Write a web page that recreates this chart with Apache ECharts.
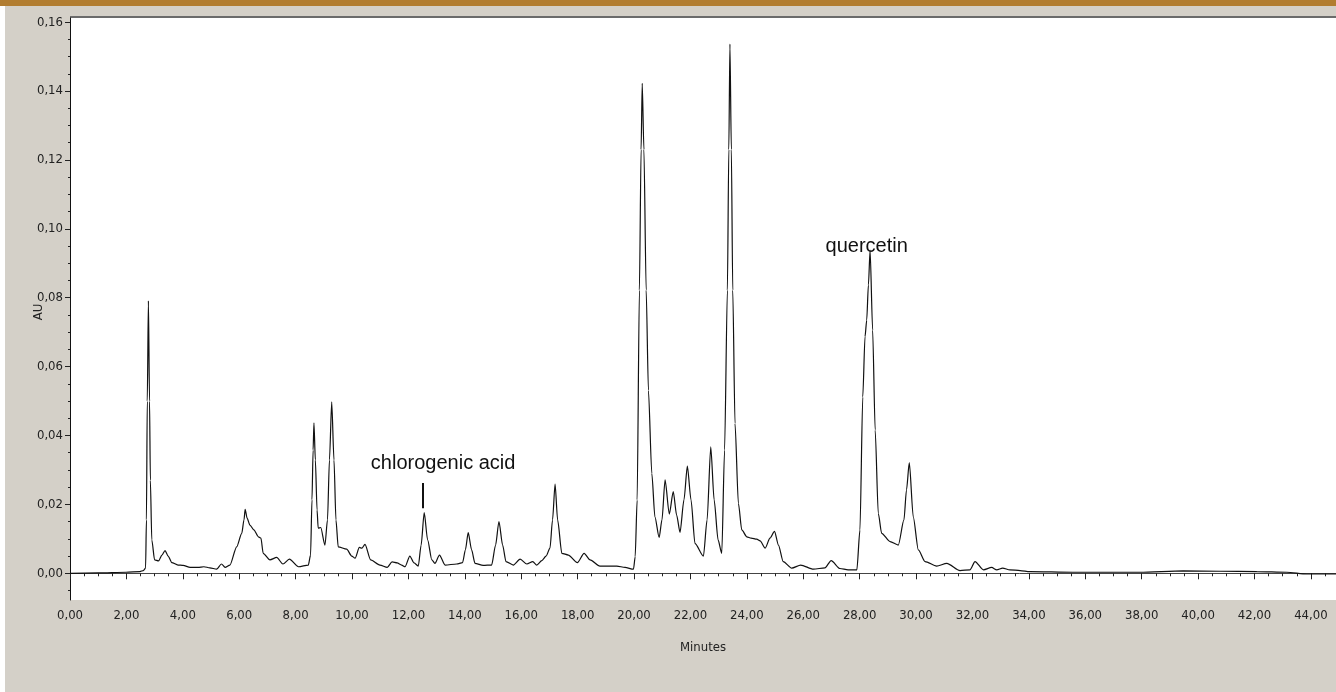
<!DOCTYPE html>
<html>
<head>
<meta charset="utf-8">
<script src="https://cdn.jsdelivr.net/npm/echarts@6/dist/echarts.min.js"></script>
<style>
html,body{margin:0;padding:0;background:#ffffff;}
#chart{width:1336px;height:692px;}
</style>
</head>
<body>
<div id="chart"></div>
<script>
// Retention time (minutes) and absorbance (AU)
const minutes = [
 0, 0.99, 1.99, 2.48, 2.60, 2.68, 2.71, 2.74, 2.78, 2.82, 2.85, 2.90, 3.00, 3.14, 3.26, 3.37, 3.48, 3.61, 3.83, 4.01,
 4.26, 4.54, 4.75, 4.96, 5.20, 5.37, 5.50, 5.67, 5.91, 6.09, 6.17, 6.21, 6.28, 6.38, 6.52, 6.68, 6.77, 6.85, 7.09, 7.33,
 7.55, 7.78, 8.10, 8.45, 8.53, 8.58, 8.62, 8.65, 8.70, 8.76, 8.80, 8.89, 9.04, 9.13, 9.20, 9.28, 9.36, 9.43, 9.51, 9.81,
 9.99, 10.11, 10.26, 10.35, 10.46, 10.66, 10.99, 11.25, 11.42, 11.60, 11.76, 11.88, 12.05, 12.20, 12.35, 12.45, 12.56, 12.68, 12.83, 12.94,
 13.10, 13.30, 13.71, 13.92, 14.02, 14.12, 14.24, 14.36, 14.65, 14.95, 15.09, 15.21, 15.34, 15.46, 15.72, 15.96, 16.20, 16.41, 16.55, 16.73,
 16.88, 17.02, 17.11, 17.20, 17.29, 17.44, 17.67, 17.99, 18.23, 18.44, 18.79, 19.39, 19.68, 19.98, 20.04, 20.11, 20.19, 20.25, 20.29, 20.35,
 20.43, 20.51, 20.63, 20.74, 20.89, 20.99, 21.10, 21.25, 21.39, 21.51, 21.63, 21.77, 21.89, 22.02, 22.16, 22.46, 22.59, 22.72, 22.84, 22.98,
 23.11, 23.21, 23.31, 23.36, 23.40, 23.45, 23.50, 23.58, 23.70, 23.82, 24.00, 24.15, 24.35, 24.47, 24.65, 24.82, 24.98, 25.12, 25.29, 25.59,
 25.91, 26.36, 26.77, 26.99, 27.30, 27.59, 27.90, 28.01, 28.11, 28.19, 28.25, 28.31, 28.37, 28.46, 28.55, 28.66, 28.78, 29.08, 29.37, 29.57,
 29.66, 29.76, 29.90, 30.08, 30.32, 30.73, 31.09, 31.56, 31.91, 32.09, 32.39, 32.68, 32.86, 33.07, 33.33, 33.69, 34.03, 35.56, 37.94, 39.47,
 40.78, 42.08, 43.14, 43.85, 44.89
];
const au = [
 0, 0.0001, 0.0003, 0.0005, 0.0008, 0.0015, 0.0155, 0.050, 0.0791, 0.050, 0.027, 0.0097, 0.0039, 0.0036, 0.0053, 0.0066, 0.0050, 0.0031, 0.0024, 0.0023,
 0.0017, 0.0017, 0.0019, 0.0016, 0.0012, 0.0027, 0.0017, 0.0024, 0.0077, 0.0116, 0.0155, 0.0186, 0.0160, 0.0140, 0.0126, 0.0106, 0.0102, 0.0058, 0.0039, 0.0046,
 0.0027, 0.0041, 0.0019, 0.0024, 0.0053, 0.0213, 0.0358, 0.0437, 0.0329, 0.0184, 0.0131, 0.0133, 0.0082, 0.0155, 0.0329, 0.0498, 0.0329, 0.0155, 0.0077, 0.0070,
 0.0050, 0.0044, 0.0075, 0.0073, 0.0084, 0.0039, 0.0024, 0.0017, 0.0033, 0.0030, 0.0024, 0.0019, 0.0050, 0.0030, 0.0021, 0.0082, 0.0176, 0.0097, 0.0039, 0.0029,
 0.0053, 0.0024, 0.0027, 0.0031, 0.0068, 0.0118, 0.0068, 0.0029, 0.0023, 0.0024, 0.0082, 0.0150, 0.0082, 0.0034, 0.0024, 0.0041, 0.0027, 0.0034, 0.0024, 0.0037,
 0.0050, 0.0073, 0.0155, 0.0259, 0.0155, 0.0058, 0.0053, 0.0031, 0.0058, 0.0039, 0.0021, 0.0021, 0.0017, 0.0012, 0.0048, 0.0213, 0.0822, 0.1230, 0.1422, 0.1230,
 0.0822, 0.0531, 0.0290, 0.0164, 0.0104, 0.0155, 0.0271, 0.0172, 0.0237, 0.0169, 0.0119, 0.0213, 0.0311, 0.0213, 0.0087, 0.0050, 0.0155, 0.0367, 0.0213, 0.0097,
 0.0058, 0.0358, 0.0822, 0.1230, 0.1536, 0.1230, 0.0822, 0.0435, 0.0203, 0.0126, 0.0106, 0.0102, 0.0099, 0.0094, 0.0073, 0.0102, 0.0122, 0.0082, 0.0034, 0.0015,
 0.0024, 0.0012, 0.0016, 0.0037, 0.0014, 0.0010, 0.0010, 0.0126, 0.0512, 0.0687, 0.0735, 0.0837, 0.0938, 0.0706, 0.0416, 0.0174, 0.0116, 0.0092, 0.0082, 0.0155,
 0.0242, 0.0321, 0.0164, 0.0068, 0.0034, 0.0021, 0.0029, 0.0008, 0.0010, 0.0034, 0.0010, 0.0017, 0.0010, 0.0015, 0.0010, 0.0008, 0.0005, 0.0003, 0.0003, 0.0007,
 0.0006, 0.0005, 0.0003, -0.0002, -0.0002
];

// Axis ticks
const xMajorTicks = [0,2,4,6,8,10,12,14,16,18,20,22,24,26,28,30,32,34,36,38,40,42,44];
const xMinorTicks = [];
for (let i = 0; i <= 89; i++) xMinorTicks.push(i * 0.5);
const yMajorTicks = [0, 0.02, 0.04, 0.06, 0.08, 0.10, 0.12, 0.14, 0.16];
const yMinorTicks = [-0.005, 0, 0.005, 0.01, 0.015, 0.02, 0.025, 0.03, 0.035, 0.04, 0.045, 0.05, 0.055, 0.06, 0.065, 0.07, 0.075, 0.08, 0.085, 0.09, 0.095, 0.10, 0.105, 0.11, 0.115, 0.12, 0.125, 0.13, 0.135, 0.14, 0.145, 0.15, 0.155, 0.16];

// Annotations
const annotNames = ['chlorogenic acid', 'quercetin'];
const annotPos = [[13.23, 0.0320], [28.25, 0.0950]];
const markerLine = [[12.51, 0.0189], [12.51, 0.0262]];

const xMin = 0, xMax = 44.89, yMin = -0.00775, yMax = 0.1612;
const fmt = v => Number(v).toFixed(2).replace('.', ',');
const tickFont = '"Liberation Sans Narrow", "DejaVu Sans Condensed", "Liberation Sans", sans-serif';
const labelFont = '"Liberation Sans", Arial, sans-serif';

const chart = echarts.init(document.getElementById('chart'), null, {renderer: 'canvas'});
chart.setOption({
  animation: false,
  backgroundColor: '#d4d0c8',
  graphic: [
    {type: 'rect', shape: {x: 0, y: 0, width: 1336, height: 6}, style: {fill: '#b27d30'}},
    {type: 'rect', shape: {x: 0, y: 6, width: 5, height: 686}, style: {fill: '#ffffff'}},
    {type: 'rect', shape: {x: 70, y: 16, width: 1266, height: 2}, style: {fill: '#6b6b6b'}},
    {type: 'text', x: 39, y: 312, rotation: Math.PI / 2,
     style: {text: 'AU', font: '13px ' + tickFont, fill: '#222', textAlign: 'center', textVerticalAlign: 'middle'}}
  ],
  grid: {left: 70, top: 18, right: 0, bottom: 92, show: true, backgroundColor: '#ffffff', borderWidth: 0, containLabel: false},
  xAxis: [
    {
      type: 'value', min: xMin, max: xMax, position: 'bottom',
      name: 'Minutes', nameLocation: 'middle', nameGap: 41,
      nameTextStyle: {fontFamily: tickFont, fontSize: 13, color: '#222'},
      axisLine: {show: true, lineStyle: {color: '#444', width: 1}},
      axisTick: {show: true, length: 6, customValues: xMajorTicks, lineStyle: {color: '#222'}},
      axisLabel: {show: true, customValues: xMajorTicks, formatter: fmt, margin: 9, fontFamily: tickFont, fontSize: 13, color: '#222'},
      splitLine: {show: false}
    },
    {
      type: 'value', min: xMin, max: xMax, position: 'bottom', offset: 0,
      axisLine: {show: false},
      axisTick: {show: true, length: 3, customValues: xMinorTicks, lineStyle: {color: '#222'}},
      axisLabel: {show: false},
      splitLine: {show: false}
    }
  ],
  yAxis: [
    {
      type: 'value', min: yMin, max: yMax, position: 'left',
      axisLine: {show: true, lineStyle: {color: '#111', width: 1}},
      axisTick: {show: true, length: 5, customValues: yMajorTicks, lineStyle: {color: '#222'}},
      axisLabel: {show: true, customValues: yMajorTicks, formatter: fmt, margin: 7, fontFamily: tickFont, fontSize: 13, color: '#222'},
      splitLine: {show: false}
    },
    {
      type: 'value', min: yMin, max: yMax, position: 'left', offset: 0,
      axisLine: {show: false},
      axisTick: {show: true, length: 2, customValues: yMinorTicks, lineStyle: {color: '#222'}},
      axisLabel: {show: false},
      splitLine: {show: false}
    }
  ],
  series: [{
    type: 'line',
    xAxisIndex: 0, yAxisIndex: 0,
    data: minutes.map((t, i) => [t, au[i]]),
    showSymbol: false,
    smooth: 0.25,
    smoothMonotone: 'x',
    lineStyle: {color: '#111', width: 1.2},
    z: 3,
    markPoint: {
      symbol: 'circle', symbolSize: 0, silent: true,
      label: {show: true, position: 'inside', fontFamily: labelFont, fontSize: 20, color: '#111'},
      data: annotNames.map((n, i) => ({coord: annotPos[i], value: n, label: {formatter: n}}))
    },
    markLine: {
      silent: true, symbol: ['none', 'none'],
      label: {show: false},
      lineStyle: {color: '#111', width: 2, type: 'solid'},
      data: [[{coord: markerLine[0]}, {coord: markerLine[1]}]]
    }
  }]
});
</script>
</body>
</html>
